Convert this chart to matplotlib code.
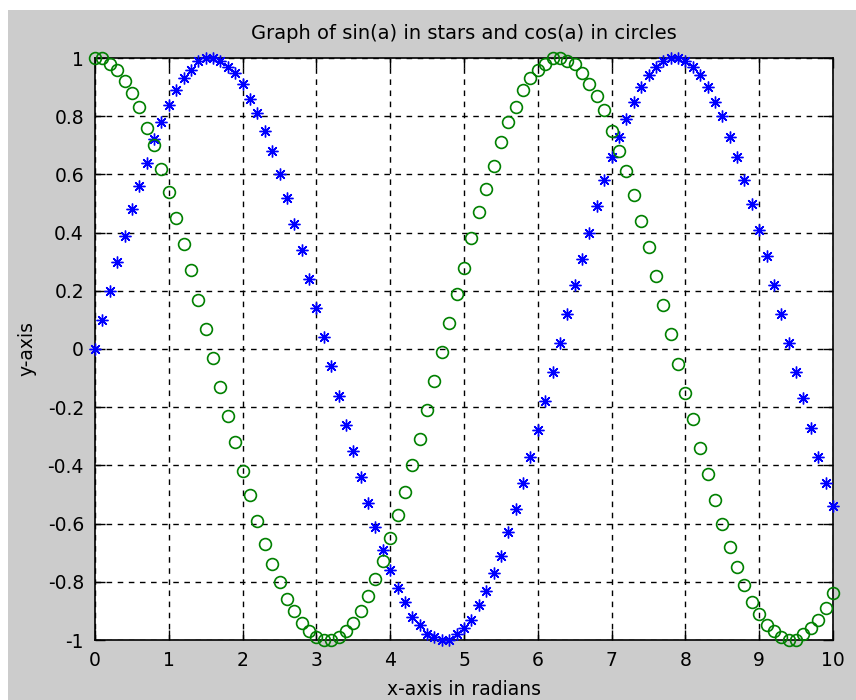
import matplotlib
matplotlib.use("Agg")
import matplotlib.pyplot as plt
from matplotlib.patches import Rectangle
from matplotlib.ticker import FormatStrFormatter, FuncFormatter

# Angles in radians, 0 to 10 in steps of 0.1
a = [0.0, 0.1, 0.2, 0.3, 0.4, 0.5, 0.6, 0.7, 0.8, 0.9,
     1.0, 1.1, 1.2, 1.3, 1.4, 1.5, 1.6, 1.7, 1.8, 1.9,
     2.0, 2.1, 2.2, 2.3, 2.4, 2.5, 2.6, 2.7, 2.8, 2.9,
     3.0, 3.1, 3.2, 3.3, 3.4, 3.5, 3.6, 3.7, 3.8, 3.9,
     4.0, 4.1, 4.2, 4.3, 4.4, 4.5, 4.6, 4.7, 4.8, 4.9,
     5.0, 5.1, 5.2, 5.3, 5.4, 5.5, 5.6, 5.7, 5.8, 5.9,
     6.0, 6.1, 6.2, 6.3, 6.4, 6.5, 6.6, 6.7, 6.8, 6.9,
     7.0, 7.1, 7.2, 7.3, 7.4, 7.5, 7.6, 7.7, 7.8, 7.9,
     8.0, 8.1, 8.2, 8.3, 8.4, 8.5, 8.6, 8.7, 8.8, 8.9,
     9.0, 9.1, 9.2, 9.3, 9.4, 9.5, 9.6, 9.7, 9.8, 9.9,
     10.0]

sin_a = [0.00, 0.10, 0.20, 0.30, 0.39, 0.48, 0.56, 0.64, 0.72, 0.78,
         0.84, 0.89, 0.93, 0.96, 0.99, 1.00, 1.00, 0.99, 0.97, 0.95,
         0.91, 0.86, 0.81, 0.75, 0.68, 0.60, 0.52, 0.43, 0.34, 0.24,
         0.14, 0.04, -0.06, -0.16, -0.26, -0.35, -0.44, -0.53, -0.61, -0.69,
         -0.76, -0.82, -0.87, -0.92, -0.95, -0.98, -0.99, -1.00, -1.00, -0.98,
         -0.96, -0.93, -0.88, -0.83, -0.77, -0.71, -0.63, -0.55, -0.46, -0.37,
         -0.28, -0.18, -0.08, 0.02, 0.12, 0.22, 0.31, 0.40, 0.49, 0.58,
         0.66, 0.73, 0.79, 0.85, 0.90, 0.94, 0.97, 0.99, 1.00, 1.00,
         0.99, 0.97, 0.94, 0.90, 0.85, 0.80, 0.73, 0.66, 0.58, 0.50,
         0.41, 0.32, 0.22, 0.12, 0.02, -0.08, -0.17, -0.27, -0.37, -0.46,
         -0.54]

cos_a = [1.00, 1.00, 0.98, 0.96, 0.92, 0.88, 0.83, 0.76, 0.70, 0.62,
         0.54, 0.45, 0.36, 0.27, 0.17, 0.07, -0.03, -0.13, -0.23, -0.32,
         -0.42, -0.50, -0.59, -0.67, -0.74, -0.80, -0.86, -0.90, -0.94, -0.97,
         -0.99, -1.00, -1.00, -0.99, -0.97, -0.94, -0.90, -0.85, -0.79, -0.73,
         -0.65, -0.57, -0.49, -0.40, -0.31, -0.21, -0.11, -0.01, 0.09, 0.19,
         0.28, 0.38, 0.47, 0.55, 0.63, 0.71, 0.78, 0.83, 0.89, 0.93,
         0.96, 0.98, 1.00, 1.00, 0.99, 0.98, 0.95, 0.91, 0.87, 0.82,
         0.75, 0.68, 0.61, 0.53, 0.44, 0.35, 0.25, 0.15, 0.05, -0.05,
         -0.15, -0.24, -0.34, -0.43, -0.52, -0.60, -0.68, -0.75, -0.81, -0.87,
         -0.91, -0.95, -0.97, -0.99, -1.00, -1.00, -0.98, -0.96, -0.93, -0.89,
         -0.84]

x_ticks = [0, 1, 2, 3, 4, 5, 6, 7, 8, 9, 10]
y_ticks = [-1, -0.8, -0.6, -0.4, -0.2, 0, 0.2, 0.4, 0.6, 0.8, 1]

plt.rcParams["font.family"] = ["DejaVu Sans"]
plt.rcParams["axes.unicode_minus"] = False

fig = plt.figure(figsize=(8.56, 7.0), dpi=100)
fig.patch.set_facecolor("#cccccc")

# white frame strip along top and left edge of the window grab
fig.add_artist(Rectangle((0, 1 - 10 / 700), 1, 10 / 700, transform=fig.transFigure,
                         facecolor="white", edgecolor="none"))
fig.add_artist(Rectangle((0, 0), 8 / 856, 1, transform=fig.transFigure,
                         facecolor="white", edgecolor="none"))

ax = fig.add_axes([95 / 856, 1 - 640 / 700, (833 - 95) / 856, (640 - 58) / 700])
ax.set_facecolor("white")

ax.plot(a, sin_a, linestyle="none", marker=(8, 2, 0), markersize=8.5,
        markeredgecolor="blue", markeredgewidth=1.0, clip_on=False, zorder=3)
ax.plot(a, cos_a, linestyle="none", marker="o", markersize=8.5,
        markerfacecolor="none", markeredgecolor="#008000", markeredgewidth=1.2,
        clip_on=False, zorder=3)

ax.set_xlim(0, 10)
ax.set_ylim(-1, 1)
ax.set_xticks(x_ticks)
ax.set_yticks(y_ticks)
ax.yaxis.set_major_formatter(FuncFormatter(lambda v, p: "%g" % round(v, 1)))
ax.xaxis.set_major_formatter(FormatStrFormatter("%g"))

ax.grid(True, color="black", linestyle=(0, (4, 4)), linewidth=1)
ax.tick_params(direction="in", length=7, width=1, top=True, right=True,
               labelsize=13.5, colors="black", pad=8)
for s in ax.spines.values():
    s.set_linewidth(1.2)

ax.set_title("Graph of sin(a) in stars and cos(a) in circles", fontsize=14, pad=14)
ax.set_xlabel("x-axis in radians", fontsize=13.5, labelpad=7)
ax.set_ylabel("y-axis", fontsize=13.5, labelpad=8)

fig.savefig("out.png", dpi=100, facecolor=fig.get_facecolor())
